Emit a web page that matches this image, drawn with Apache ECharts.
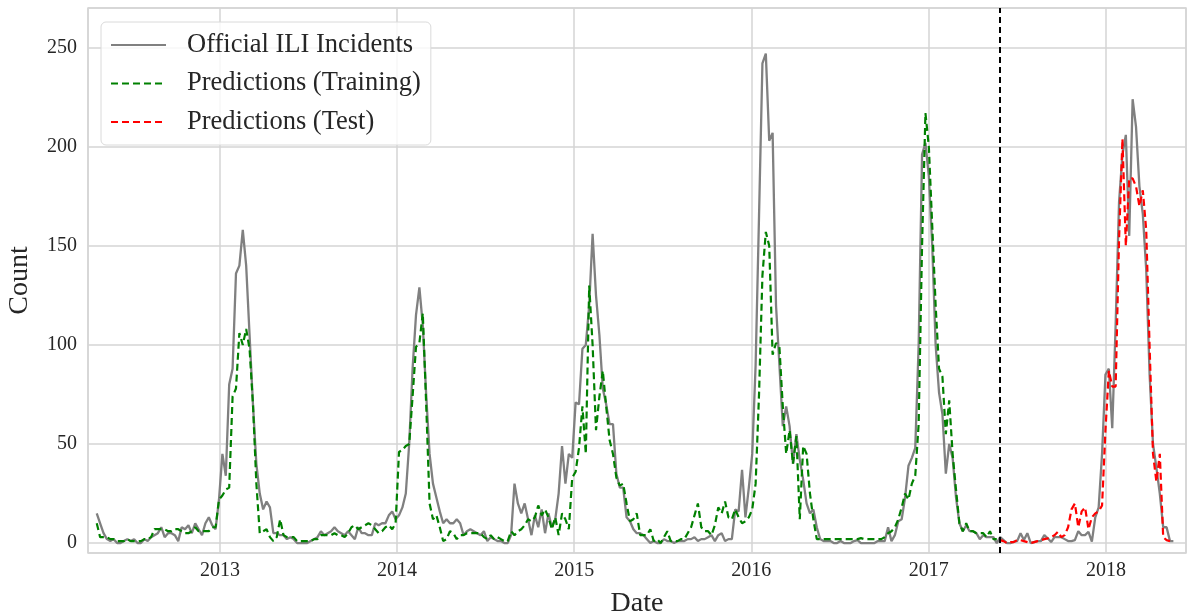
<!DOCTYPE html>
<html>
<head>
<meta charset="utf-8">
<title>ILI incidents and predictions</title>
<script src="https://cdn.jsdelivr.net/npm/echarts@6/dist/echarts.min.js"></script>
<style>
  html, body { margin: 0; padding: 0; background: #fff; }
  #main { width: 1196px; height: 615px; }
</style>
</head>
<body>
<div id="main"></div>
<script>
// weekly series, first week is 2012-04-22, one value per week
var firstWeek = Date.UTC(2012, 3, 22);

// official counts up to the train/test split (one line per season)
var officialTrain = [
  15, 10, 5, 2, 1, 2, 0, 0, 1, 2, 1, 2, 0, 0, 2, 1, 3, 4, 5, 8, 3, 5, 5, 4, 1, 8, 7, 9, 5, 10, 7, 4, 10, 13, 9, 7,
  22, 45, 34, 80, 88, 136, 140, 158, 140, 105, 70, 40, 25, 17, 21, 18, 5, 5, 4, 4, 2, 3, 2, 0, 0, 0, 0, 1,
  2, 3, 6, 4, 5, 6, 8, 6, 5, 4, 6, 4, 2, 8, 5, 5, 4, 4, 10, 9, 10, 10, 14, 16, 12, 14, 18, 25, 50, 88,
  115, 129, 110, 75, 45, 30, 23, 16, 10, 12, 10, 10, 12, 10, 4, 6, 7, 6, 5, 4, 6, 1, 3, 2, 1, 1, 0,
  0, 4, 30, 20, 15, 20, 12, 4, 14, 8, 17, 5, 15, 8, 12, 25, 49, 30, 45, 43,
  71, 70, 98, 100, 120, 156, 125, 105, 78, 70, 60, 60, 35, 28, 28, 13, 11, 7, 5, 5, 4, 2, 0, 1, 0, 0, 2, 1, 1, 0, 1, 1,
  1, 2, 2, 3, 1, 2, 2, 3, 4, 1, 4, 5, 1, 2, 2, 17, 16, 37, 13, 28,
  45, 90, 165, 242, 247, 203, 207, 120, 90, 59, 69, 59, 40, 55, 42, 32, 20, 15, 17, 8, 2, 1, 1, 1, 0, 0, 1, 0, 0, 0, 1,
  1.5, 0, 0, 0, 0, 0, 1, 1, 1, 8, 1, 4, 11, 12, 23, 39, 43, 48, 100, 196,
  202, 185, 150, 100, 76, 65, 35, 50, 43, 23, 10, 6, 9, 6, 6, 5, 2, 4, 3, 3, 3, 0
];

// official counts after the split (2017-18 season)
var officialTest = [
  3, 1.5, 0, 0, 0.7, 1, 5, 1.5, 5, 0, 0.5, 1, 1, 4, 2.4, 0.5, 3, 3, 3, 2,
  1, 1, 1.5, 6, 4, 4, 5.7, 0.7, 13, 18, 45, 85, 88, 58, 110, 172, 196, 206, 155, 224,
  210, 180, 166, 138, 85, 50, 38, 25, 8, 8, 1, 1
];

// model output on the training weeks
var predTrain = [
  10, 3, 3, 3, 2, 2, 1, 1, 1, 2, 1, 1, 1, 1, 2, 2, 3, 7, 7, 7, 7, 6, 6, 7, 7, 6, 5, 5, 6, 8, 6, 6, 6, 6, 8, 8,
  22, 24, 27, 28, 74, 78, 106, 100, 108, 98, 70, 30, 5, 6, 7, 3, 1, 3, 12, 4, 3, 3, 3, 1, 1, 1, 1, 1,
  2, 2, 4, 4, 4, 4, 5, 4, 4, 3, 5, 8, 9, 7, 8, 9, 10, 9, 7, 5, 6, 8, 9, 7, 10, 46, 47, 49, 50, 74,
  99, 101, 116, 70, 20, 12, 14, 8, 1, 2, 6, 5, 2, 4, 4, 5, 5, 5, 5, 5, 3, 2, 4, 2, 3, 2, 1,
  1, 6, 4, 6, 7, 9, 12, 11, 13, 19, 14, 17, 13, 7, 13, 4, 15, 12, 7, 33,
  36, 48, 69, 45, 130, 100, 57, 74, 87, 69, 52, 45, 33, 29, 30, 20, 11, 12, 15, 4, 4, 4, 7, 1, 2, 0, 3, 6, 1, 1, 1, 2,
  2, 5, 8, 14, 20, 8, 6, 6, 4, 9, 18, 15, 21, 13, 12, 17, 13, 10, 11, 13,
  17, 30, 75, 135, 157, 150, 95, 101, 99, 69, 45, 57, 40, 54, 12, 49, 45, 25, 12, 2, 2, 2, 2, 2, 2, 2, 2, 2, 2, 2, 2,
  2, 2.5, 2, 2, 2, 2, 2, 2, 3, 5, 6, 8, 12, 18, 25, 22, 30, 34, 60, 150,
  217, 200, 160, 120, 88, 84, 55, 72, 45, 27, 10, 6, 10, 6, 6, 5, 5, 5, 3, 6, 2, 2
];

// model output on the test weeks
var predTest = [
  1.5, 1, 0, 0.5, 0.5, 1.5, 1.5, 1, 0.5, 0, 0.5, 1, 1.5, 2, 2.4, 3, 4, 5.7, 3, 4,
  8, 17, 20, 8, 16, 18, 7, 13, 15, 16, 19, 57, 87, 79, 79, 153, 204, 150, 184, 184,
  180, 170, 178, 158, 99, 45, 31, 45, 3, 1.5, 1
];

var WEEK = 7 * 24 * 3600 * 1000;
var FONT = 'Liberation Serif';
var TEXT = '#262626';
var GRIDCOL = '#d5d5d5';

function weekDate(k) {
  return firstWeek + k * WEEK;
}

var official = officialTrain.concat(officialTest);
var officialData = official.map(function (v, k) { return [weekDate(k), v]; });
var trainData = predTrain.map(function (v, k) { return [weekDate(k), v]; });
var testData = predTest.map(function (v, k) { return [weekDate(predTrain.length + k), v]; });
var splitDate = weekDate(predTrain.length);

var myChart = echarts.init(document.getElementById('main'));

var option = {
  animation: false,
  useUTC: true,
  backgroundColor: '#fff',
  grid: {
    left: 88,
    right: 10,
    top: 8,
    bottom: 62,
    show: true,
    borderColor: GRIDCOL,
    borderWidth: 1.5,
    containLabel: false,
    outerBoundsMode: 'none'
  },
  legend: {
    orient: 'vertical',
    left: 101,
    top: 22,
    itemWidth: 55,
    itemHeight: 14,
    itemGap: 8.5,
    padding: [8, 10, 8, 9],
    backgroundColor: 'rgba(255,255,255,0.8)',
    borderColor: '#dadada',
    borderWidth: 1,
    borderRadius: 5,
    // hide the marker dot, keep only the line sample
    itemStyle: { opacity: 0, color: 'rgba(0,0,0,0)', borderWidth: 0 },
    textStyle: {
      fontFamily: FONT,
      fontSize: 26.5,
      color: TEXT,
      lineHeight: 30,
      padding: [0, 0, 0, 16]
    },
    data: ['Official ILI Incidents', 'Predictions (Training)', 'Predictions (Test)']
  },
  xAxis: {
    type: 'time',
    min: Date.UTC(2012, 3, 4),
    max: Date.UTC(2018, 5, 15),
    splitNumber: 6,
    minInterval: 365 * 24 * 3600 * 1000,
    maxInterval: 366 * 24 * 3600 * 1000,
    name: 'Date',
    nameLocation: 'middle',
    nameGap: 37,
    nameTextStyle: { fontFamily: FONT, fontSize: 28, color: TEXT },
    axisLine: { show: false },
    axisTick: { show: false },
    axisLabel: {
      fontFamily: FONT,
      fontSize: 20,
      color: TEXT,
      margin: 8,
      formatter: function (v) {
        var d = new Date(v);
        if (d.getUTCMonth() === 0 && d.getUTCDate() === 1) {
          return String(d.getUTCFullYear());
        }
        return '';
      }
    },
    splitLine: { show: true, lineStyle: { color: GRIDCOL, width: 1.5 } }
  },
  yAxis: {
    type: 'value',
    min: -5,
    max: 270,
    splitNumber: 5,
    name: 'Count',
    nameLocation: 'middle',
    nameGap: 54,
    nameTextStyle: { fontFamily: FONT, fontSize: 28, color: TEXT },
    axisLine: { show: false },
    axisTick: { show: false },
    axisLabel: {
      fontFamily: FONT,
      fontSize: 20,
      color: TEXT,
      margin: 11,
      showMinLabel: false,
      showMaxLabel: false
    },
    splitLine: { show: true, lineStyle: { color: GRIDCOL, width: 1.5 } }
  },
  series: [
    {
      name: 'Official ILI Incidents',
      type: 'line',
      data: officialData,
      symbol: 'none',
      showSymbol: false,
      color: '#808080',
      lineStyle: { color: '#808080', width: 2.3 },
      z: 2
    },
    {
      name: 'Predictions (Training)',
      type: 'line',
      data: trainData,
      symbol: 'none',
      showSymbol: false,
      color: '#008000',
      lineStyle: { color: '#008000', width: 2.2, type: [7, 4] },
      z: 3
    },
    {
      name: 'Predictions (Test)',
      type: 'line',
      data: testData,
      symbol: 'none',
      showSymbol: false,
      color: '#ff0000',
      lineStyle: { color: '#ff0000', width: 2.2, type: [7, 4] },
      z: 4,
      markLine: {
        silent: true,
        symbol: ['none', 'none'],
        label: { show: false },
        lineStyle: { color: '#000', width: 2, type: [6, 4] },
        data: [{ xAxis: splitDate }]
      }
    }
  ]
};

myChart.setOption(option);
</script>
</body>
</html>
